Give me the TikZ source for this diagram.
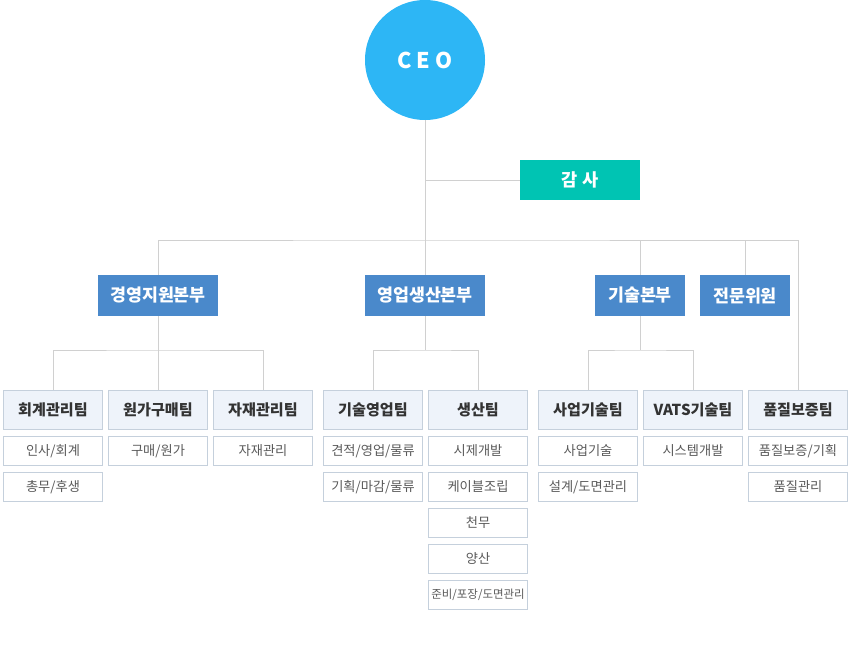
\documentclass[tikz,border=0pt]{standalone}
\usepackage{fontspec}
\setmainfont{Noto Sans CJK KR}
\usetikzlibrary{positioning}
\definecolor{ceoblue}{RGB}{45,182,245}
\definecolor{auditteal}{RGB}{0,196,179}
\definecolor{hqblue}{RGB}{74,137,203}
\definecolor{teamfill}{RGB}{238,243,250}
\definecolor{boxline}{RGB}{197,208,220}
\definecolor{wiregray}{RGB}{208,208,208}
\definecolor{txtdark}{RGB}{51,51,51}
\definecolor{txtsub}{RGB}{90,90,90}
\tikzset{
  wire/.style={draw=wiregray,line width=0.8pt},
  hqbox/.style={fill=hqblue,text=white,inner sep=0pt,minimum height=1.23cm,
    font=\bfseries\fontsize{14.8}{15}\selectfont},
  teambox/.style={draw=boxline,fill=teamfill,text=txtdark,line width=0.8pt,
    minimum width=2.98cm,minimum height=1.18cm,inner sep=0pt,
    font=\bfseries\fontsize{12.9}{13}\selectfont},
  subbox/.style={draw=boxline,fill=white,text=txtsub,line width=0.8pt,
    minimum width=2.98cm,minimum height=0.88cm,inner sep=0pt,
    font=\fontsize{11.3}{12}\selectfont},
}

\begin{document}
\begin{tikzpicture}[x=0.03cm,y=-0.03cm]
  \useasboundingbox (0,0) rectangle (850,650);
  % top
  \node[circle,fill=ceoblue,text=white,minimum size=3.6cm,inner sep=0pt,
        font=\bfseries\fontsize{18.5}{19}\selectfont] (ceo) at (425,60)
        {C\hspace{0.25em}E\hspace{0.25em}O};
  \node[fill=auditteal,text=white,minimum width=3.6cm,minimum height=1.2cm,
        inner sep=0pt,font=\bfseries\fontsize{15}{15}\selectfont] (audit) at (580,180) {감 사};
  % headquarters
  \node[hqbox,minimum width=3.6cm] (mgmt)   at (158,295.5) {경영지원본부};
  \node[hqbox,minimum width=3.6cm] (sales)  at (425,295.5) {영업생산본부};
  \node[hqbox,minimum width=2.7cm] (tech)   at (640,295.5) {기술본부};
  \node[hqbox,minimum width=2.7cm] (expert) at (745,295.5) {전문위원};
  % teams
  \node[teambox] (acct)  at (53,410)  {회계관리팀};
  \node[teambox] (cost)  at (158,410) {원가구매팀};
  \node[teambox] (matl)  at (263,410) {자재관리팀};
  \node[teambox] (tsale) at (373,410) {기술영업팀};
  \node[teambox] (prod)  at (478,410) {생산팀};
  \node[teambox] (biz)   at (588,410) {사업기술팀};
  \node[teambox] (vats)  at (693,410) {VATS기술팀};
  \node[teambox] (qa)    at (798,410) {품질보증팀};
  % duties
  \foreach \lbl [count=\i] in {인사/회계,총무/후생}
    \node[subbox] (acct\i) at (53,{415+36*\i}) {\lbl};
  \node[subbox] (cost1) at (158,451) {구매/원가};
  \node[subbox] (matl1) at (263,451) {자재관리};
  \foreach \lbl [count=\i] in {견적/영업/물류,기획/마감/물류}
    \node[subbox] (tsale\i) at (373,{415+36*\i}) {\lbl};
  \foreach \lbl [count=\i] in {시제개발,케이블조립,천무,양산}
    \node[subbox] (prod\i) at (478,{415+36*\i}) {\lbl};
  \node[subbox,font=\fontsize{9.8}{10}\selectfont] (prod5) at (478,595) {준비/포장/도면관리};
  \foreach \lbl [count=\i] in {사업기술,설계/도면관리}
    \node[subbox] (biz\i) at (588,{415+36*\i}) {\lbl};
  \node[subbox] (vats1) at (693,451) {시스템개발};
  \foreach \lbl [count=\i] in {품질보증/기획,품질관리}
    \node[subbox] (qa\i) at (798,{415+36*\i}) {\lbl};
  % connectors
  \coordinate (bus) at (425,240);
  \coordinate (mgmtbus) at (158,350);
  \coordinate (salesbus) at (425,350);
  \coordinate (techbus) at (640,350);
  \draw[wire] (ceo.south) -- (sales.north);
  \draw[wire] (audit.west) -- (audit.west -| ceo.south);
  \draw[wire] (mgmt.north) |- (bus) -| (qa.north);
  \draw[wire] (tech.north) -- (tech.north |- bus);
  \draw[wire] (expert.north) -- (expert.north |- bus);
  \draw[wire] (mgmt.south) -- (cost.north);
  \draw[wire] (acct.north) |- (mgmtbus) -| (matl.north);
  \draw[wire] (sales.south) -- (salesbus);
  \draw[wire] (tsale.north) |- (salesbus) -| (prod.north);
  \draw[wire] (tech.south) -- (techbus);
  \draw[wire] (biz.north) |- (techbus) -| (vats.north);
\end{tikzpicture}
\end{document}
